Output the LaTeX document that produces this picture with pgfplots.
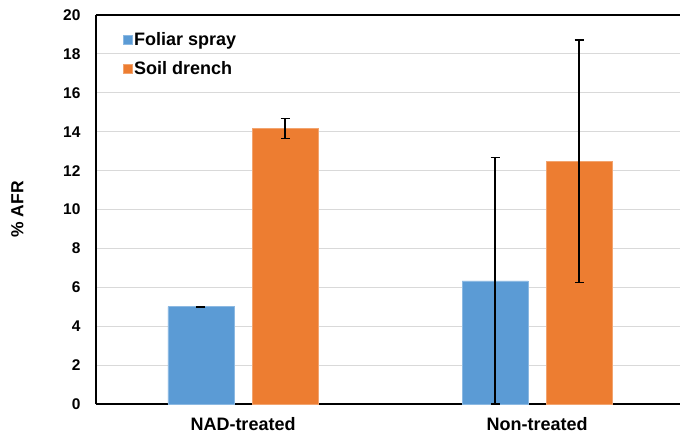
\documentclass[border=0pt]{standalone}
\usepackage{fontspec}
\setmainfont{Liberation Sans}
\usepackage{pgfplots}
\pgfplotsset{compat=1.18}
\definecolor{fblue}{HTML}{5B9BD5}
\definecolor{sorange}{HTML}{ED7D31}
\definecolor{gridc}{HTML}{D9D9D9}
\begin{document}
\begin{tikzpicture}[x=1pt,y=1pt]
\path[use as bounding box] (-96pt,-35pt) rectangle (584pt,404pt);
\begin{axis}[
  at={(0pt,0pt)}, anchor=south west,
  scale only axis, width=584pt, height=389pt,
  xmin=-0.5, xmax=1.486, ymin=0, ymax=20,
  ytick={0,2,...,20},
  xtick={0,1}, xticklabels={NAD-treated,Non-treated},
  major tick length=0pt,
  ymajorgrids, grid style={gridc, line width=1pt},
  axis x line*=bottom, axis y line*=left,
  axis line style={black, line width=1.4pt, -},
  /pgf/number format/assume math mode=true,
  yticklabel style={font=\fontsize{15.5}{18}\selectfont\bfseries, xshift=-12pt},
  xticklabel style={font=\fontsize{18}{20}\selectfont\bfseries, yshift=-10pt},
  ylabel={\% AFR},
  ylabel style={font=\fontsize{17.5}{20}\selectfont\bfseries, at={(rel axis cs:0,0.5)}, yshift=69pt},
  legend style={draw=none, fill=none, at={(rel axis cs:0.04,0.965)}, anchor=north west,
    font=\fontsize{18}{20}\selectfont\bfseries, row sep=10pt,
    legend cell align=left},
  legend image code/.code={\fill[#1] (1pt,-4.5pt) rectangle (10pt,4.5pt);},
  bar width=0.2245,
  error bars/error bar style={black, line width=1.3pt},
  error bars/error mark options={black, line width=1.3pt, rotate=90, mark size=4.5pt},
]
\addplot[ybar, bar shift=0, fill=fblue, draw=fblue!70!white, line width=0.5pt,
  error bars/.cd, y dir=both, y explicit]
  coordinates {(-0.143,5.00) +- (0,0.03) (0.857,6.33) +- (0,6.33)};
\addplot[ybar, bar shift=0, fill=sorange, draw=sorange!70!white, line width=0.5pt,
  error bars/.cd, y dir=both, y explicit]
  coordinates {(0.143,14.17) +- (0,0.51) (1.143,12.48) +- (0,6.24)};
\legend{Foliar spray, Soil drench}
\draw[black, line width=1.4pt] (rel axis cs:0,1) -- (rel axis cs:1,1);
\end{axis}
\end{tikzpicture}
\end{document}
